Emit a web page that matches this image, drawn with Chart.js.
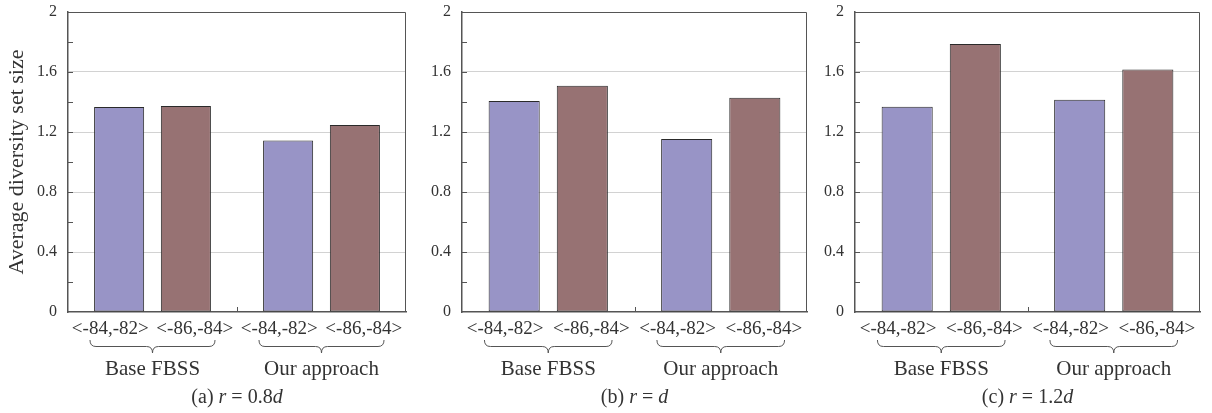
<!DOCTYPE html>
<html lang="en">

<head>
    <meta charset="UTF-8">
    <meta name="viewport" content="width=device-width, initial-scale=1.0">
    <title>Average diversity set size</title>
    <script src="https://cdn.jsdelivr.net/npm/chart.js"></script>
    <style>
        body { margin: 0; background: #fff; }
        #wrap { position: relative; width: 1212px; height: 413px; }
        .panel { position: absolute; top: 0; height: 413px; }
        .caption {
            position: absolute; top: 385px; right: 0;
            font-family: "Liberation Serif", serif; font-size: 20px; color: #333;
            text-align: center; white-space: nowrap;
        }
    </style>
</head>

<body>
    <div id="wrap">
        <div class="panel" id="pa" style="left:0;width:410px"><canvas id="chartA"></canvas>
            <div class="caption" style="left:68px;right:4px">(a) <i>r</i> = 0.8<i>d</i></div></div>
        <div class="panel" id="pb" style="left:410px;width:400px"><canvas id="chartB"></canvas>
            <div class="caption" style="left:52px;right:3px">(b) <i>r</i> = <i>d</i></div></div>
        <div class="panel" id="pc" style="left:810px;width:402px"><canvas id="chartC"></canvas>
            <div class="caption" style="left:45px;right:12px">(c) <i>r</i> = 1.2<i>d</i></div></div>
    </div>

    <script>
        // Data
        const groups = ["Base FBSS", "Our approach"];
        const rssiRanges = ["<-84,-82>", "<-86,-84>"];
        const barLabels = ["<-84,-82>", "<-86,-84>", "<-84,-82>", "<-86,-84>"];
        const yTicks = [0, 0.4, 0.8, 1.2, 1.6, 2];

        // (a) r = 0.8d
        const r08Range1 = [1.367, 1.144];
        const r08Range2 = [1.373, 1.247];
        // (b) r = d
        const r10Range1 = [1.407, 1.153];
        const r10Range2 = [1.509, 1.429];
        // (c) r = 1.2d
        const r12Range1 = [1.369, 1.415];
        const r12Range2 = [1.787, 1.617];

        const FONT = "'Liberation Serif', 'Times New Roman', serif";
        const TEXT = "#333";
        const AXIS = "#555";
        const colors = ["#9894c6", "#977273"];

        // borders, minor ticks and braces
        const decor = {
            id: "decor",
            afterDraw(chart) {
                const { ctx, chartArea: a, scales } = chart;
                const x = scales.x, y = scales.y;
                ctx.save();
                ctx.strokeStyle = AXIS;
                ctx.lineWidth = 1;
                ctx.beginPath();
                ctx.moveTo(a.left, a.top + 0.5);
                ctx.lineTo(a.right - 0.5, a.top + 0.5);
                ctx.lineTo(a.right - 0.5, a.bottom);
                // inside ticks on the y axis
                for (let v = 0.2; v < 2; v += 0.2) {
                    const py = Math.round(y.getPixelForValue(v)) + 0.5;
                    ctx.moveTo(a.left, py);
                    ctx.lineTo(a.left + 5, py);
                }
                // category boundary tick
                const mid = Math.round((x.getPixelForValue(0) + x.getPixelForValue(1)) / 2) + 0.5;
                ctx.moveTo(mid, a.bottom);
                ctx.lineTo(mid, a.bottom - 5);
                ctx.stroke();

                // braces under each group
                const half = (x.getPixelForValue(1) - x.getPixelForValue(0)) * 0.37;
                const y0 = a.bottom + 28, h = 13, r = 6;
                ctx.beginPath();
                groups.forEach((g, i) => {
                    const cx = x.getPixelForValue(i);
                    const l = cx - half, rt = cx + half, ym = y0 + h / 2;
                    ctx.moveTo(l, y0);
                    ctx.quadraticCurveTo(l, ym, l + r, ym);
                    ctx.lineTo(cx - r, ym);
                    ctx.quadraticCurveTo(cx, ym, cx, y0 + h);
                    ctx.quadraticCurveTo(cx, ym, cx + r, ym);
                    ctx.lineTo(rt - r, ym);
                    ctx.quadraticCurveTo(rt, ym, rt, y0);
                });
                ctx.stroke();
                ctx.restore();
            }
        };

        function makeChart(canvasId, range1, range2, yWidth, padRight, showTitle) {
            const ctx = document.getElementById(canvasId).getContext("2d");
            return new Chart(ctx, {
                type: "bar",
                data: {
                    labels: groups,
                    datasets: [
                        { label: rssiRanges[0], data: range1, backgroundColor: colors[0], xAxisID: "x", yAxisID: "y" },
                        { label: rssiRanges[1], data: range2, backgroundColor: colors[1], xAxisID: "x", yAxisID: "y" },
                    ],
                },
                options: {
                    responsive: true,
                    maintainAspectRatio: false,
                    animation: false,
                    layout: { padding: { top: 12, right: padRight, bottom: 0, left: 0 } },
                    datasets: {
                        bar: {
                            categoryPercentage: 0.79,
                            barPercentage: 0.75,
                            borderColor: "#2a2a2a",
                            borderWidth: 1,
                            borderSkipped: false,
                        },
                    },
                    plugins: {
                        legend: { display: false },
                        tooltip: { enabled: false },
                    },
                    scales: {
                        x2: {
                            type: "category",
                            position: "bottom",
                            labels: barLabels,
                            offset: true,
                            weight: 0,
                            grid: { display: false, drawTicks: false },
                            border: { display: true, color: AXIS, width: 1.5 },
                            ticks: { font: { family: FONT, size: 19 }, color: TEXT, padding: 6, maxRotation: 0, autoSkip: false },
                            afterFit: (s) => { s.height = 30; },
                        },
                        x: {
                            type: "category",
                            position: "bottom",
                            weight: 1,
                            grid: { display: false, drawTicks: false },
                            border: { display: false },
                            ticks: { font: { family: FONT, size: 21 }, color: TEXT, padding: 15, maxRotation: 0 },
                            afterFit: (s) => { s.height = 71; },
                        },
                        y: {
                            min: 0,
                            max: 2,
                            afterBuildTicks: (s) => { s.ticks = yTicks.map((v) => ({ value: v })); },
                            grid: {
                                drawTicks: false,
                                color: (c) => (c.tick.value === 0 || c.tick.value === 2 ? "rgba(0,0,0,0)" : "#d2d2d2"),
                            },
                            border: { display: true, color: AXIS, width: 1.5 },
                            ticks: {
                                font: { family: FONT, size: 16 },
                                color: TEXT,
                                padding: 11,
                                callback: (v) => String(v),
                            },
                            title: {
                                display: showTitle,
                                text: "Average diversity set size",
                                font: { family: FONT, size: 22 },
                                color: TEXT,
                                padding: { top: 4, bottom: 0 },
                            },
                            afterFit: (s) => {
                                s.width = yWidth;
                                s.paddingTop = 0;
                                s.paddingBottom = 0;
                            },
                        },
                    },
                },
                plugins: [decor],
            });
        }

        makeChart("chartA", r08Range1, r08Range2, 68, 4, true);
        makeChart("chartB", r10Range1, r10Range2, 52, 3, false);
        makeChart("chartC", r12Range1, r12Range2, 45, 12, false);
    </script>
</body>

</html>
